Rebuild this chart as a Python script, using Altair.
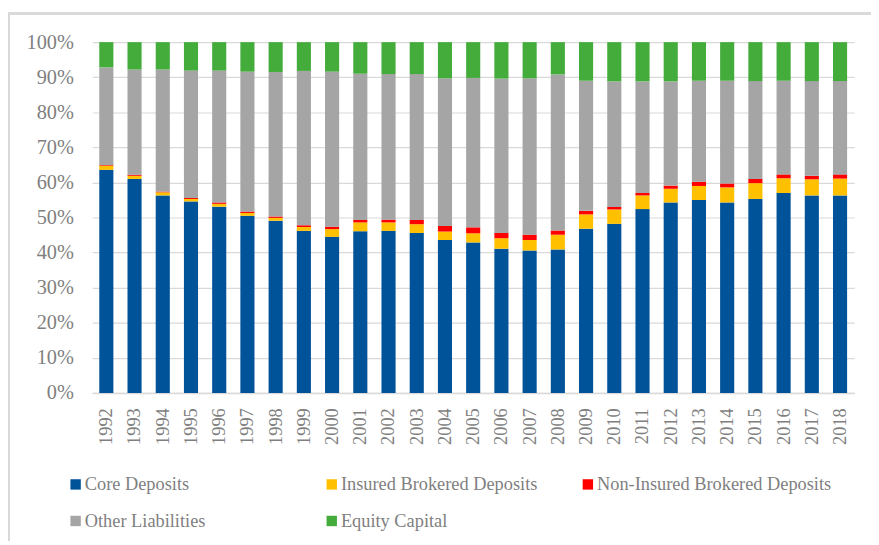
import altair as alt
import pandas as pd

years = [str(y) for y in range(1992, 2019)]
core = [63.6, 61.0, 56.3, 54.6, 53.1, 50.5, 49.1, 46.2, 44.5, 46.1, 46.2, 45.6, 43.6, 42.9,
        41.1, 40.6, 40.9, 46.8, 48.2, 52.4, 54.3, 55.0, 54.3, 55.3, 57.0, 56.3, 56.3]
insured = [1.2, 0.9, 0.9, 0.7, 0.8, 0.8, 0.8, 1.1, 2.2, 2.5, 2.4, 2.5, 2.4, 2.6,
           3.0, 3.0, 4.2, 4.1, 4.1, 3.9, 3.9, 4.0, 4.3, 4.5, 4.2, 4.6, 4.8]
noninsured = [0.2, 0.3, 0.2, 0.3, 0.4, 0.4, 0.4, 0.5, 0.7, 0.7, 0.8, 1.2, 1.6, 1.7,
              1.5, 1.5, 1.2, 1.0, 0.7, 0.7, 0.9, 1.2, 1.1, 1.2, 1.1, 1.0, 1.2]
other = [27.8, 30.0, 34.8, 36.3, 37.6, 39.9, 41.2, 44.0, 44.2, 41.7, 41.5, 41.6, 42.1, 42.6,
         44.0, 44.6, 44.5, 37.1, 35.8, 31.8, 29.7, 28.8, 29.3, 27.9, 26.7, 27.0, 26.6]
equity = [7.2, 7.8, 7.8, 8.1, 8.1, 8.4, 8.5, 8.2, 8.4, 9.0, 9.1, 9.1, 10.3, 10.2,
          10.4, 10.3, 9.2, 11.0, 11.2, 11.2, 11.2, 11.0, 11.0, 11.1, 11.0, 11.1, 11.1]

series = ["Core Deposits", "Insured Brokered Deposits", "Non-Insured Brokered Deposits",
          "Other Liabilities", "Equity Capital"]
colors = ["#005299", "#FFC000", "#FF0000", "#A5A5A5", "#43AC3B"]

rows = []
for i, y in enumerate(years):
    for k, (name, vals) in enumerate(zip(series, [core, insured, noninsured, other, equity])):
        rows.append({"year": y, "series": name, "value": vals[i], "idx": k})
df = pd.DataFrame(rows)

FONT = "Liberation Serif"
GRAY = "#7f7f7f"

bars = alt.Chart(df).mark_bar().encode(
    x=alt.X("year:N", sort=years, title=None,
            scale=alt.Scale(paddingInner=0.5, paddingOuter=0.25),
            axis=alt.Axis(labelAngle=270, labelPadding=15, ticks=False, domain=True,
                          domainColor="#d9d9d9", domainWidth=1.5,
                          labelFont=FONT, labelFontSize=18.5, labelColor=GRAY, grid=False)),
    y=alt.Y("value:Q", stack="normalize", title=None,
            scale=alt.Scale(domain=[0, 1]),
            axis=alt.Axis(format=".0%", values=[i / 10 for i in range(11)], domain=False,
                          ticks=False, labelPadding=19, labelFont=FONT, labelFontSize=20.5,
                          labelColor=GRAY, grid=True, gridColor="#d9d9d9", gridWidth=1.2)),
    color=alt.Color("series:N", sort=series,
                    scale=alt.Scale(domain=series, range=colors),
                    legend=alt.Legend(title=None, orient="none", legendX=-26, legendY=437,
                                      columns=3, direction="horizontal", gridAlign="all",
                                      columnPadding=3.5, rowPadding=18, symbolType="square",
                                      symbolSize=110, symbolStrokeWidth=0, labelOffset=0,
                                      labelFont=FONT, labelFontSize=18.5, labelColor=GRAY,
                                      labelLimit=400)),
    order=alt.Order("idx:Q", sort="ascending"),
)

frame = alt.Chart(df).mark_rect(fill=None, stroke="#d9d9d9", strokeWidth=2).encode(
    x=alt.value(-84), x2=alt.value(850), y=alt.value(-29), y2=alt.value(560)
)

chart = alt.layer(frame, bars).properties(
    width=769, height=354,
    padding={"left": 85, "top": 32, "right": 17, "bottom": 147},
    autosize=alt.AutoSizeParams(type="none"),
).configure_view(stroke=None)

chart.save("out.html", embed_options={"renderer": "svg", "actions": False})
